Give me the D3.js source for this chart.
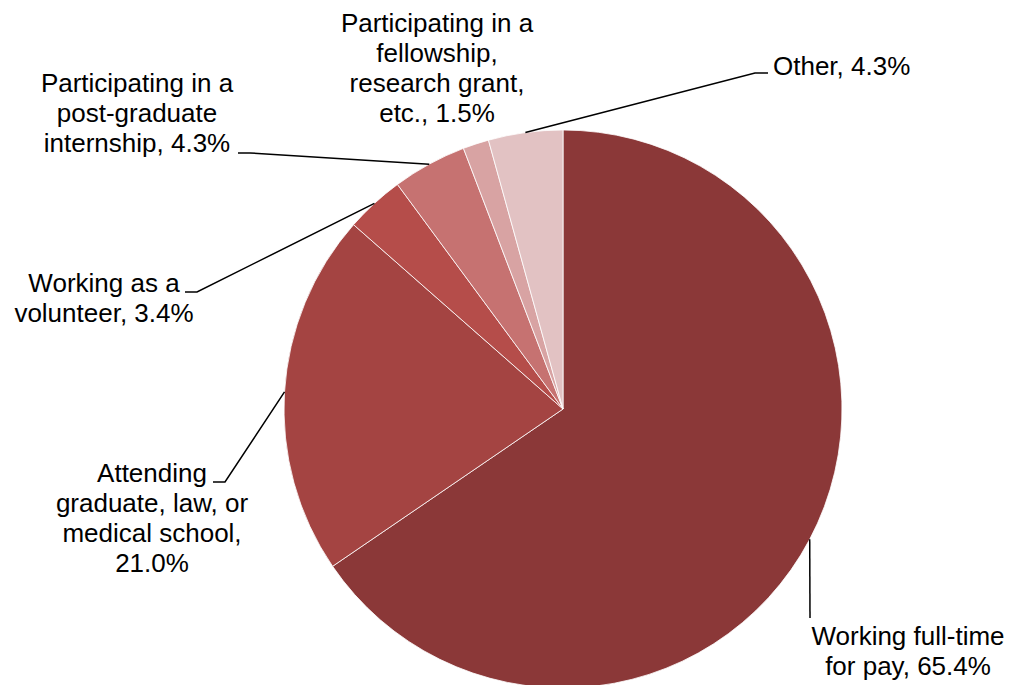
<!DOCTYPE html>
<html>
<head>
<meta charset="utf-8">
<script src="https://cdn.jsdelivr.net/npm/d3@7"></script>
<style>
  html, body { margin: 0; padding: 0; background: #ffffff; }
  svg { display: block; }
  text { font-family: "Liberation Sans", Arial, sans-serif; font-size: 26px; fill: #000; }
</style>
</head>
<body>
<svg id="chart" width="1012" height="685"></svg>
<script>
// ---- data ----
const categories = [
  "Working full-time for pay",
  "Attending graduate, law, or medical school",
  "Working as a volunteer",
  "Participating in a post-graduate internship",
  "Participating in a fellowship, research grant, etc.",
  "Other"
];
const values = [65.4, 21.0, 3.4, 4.3, 1.5, 4.3];
const labelLines = [
  ["Working full-time", "for pay, 65.4%"],
  ["Attending", "graduate, law, or", "medical school,", "21.0%"],
  ["Working as a", "volunteer, 3.4%"],
  ["Participating in a", "post-graduate", "internship, 4.3%"],
  ["Participating in a", "fellowship,", "research grant,", "etc., 1.5%"],
  ["Other, 4.3%"]
];
const colors = ["#8B3838", "#A44442", "#B54D4A", "#C67271", "#D8A3A3", "#E2C2C3"];

// ---- layout (label placement, not data) ----
const cx = 563, cy = 409, radius = 279, lineH = 30;
const labelLayout = [
  { x: 908, y: 645, anchor: "middle", leader: [[810, 618]] },
  { x: 152, y: 482, anchor: "middle", leader: [[225, 482], [213, 482]] },
  { x: 104, y: 292, anchor: "middle", leader: [[197, 292], [185, 292]] },
  { x: 137, y: 92,  anchor: "middle", leader: [[250, 153], [238, 153]] },
  { x: 437, y: 32,  anchor: "middle", leader: null },
  { x: 773, y: 75,  anchor: "start",  leader: [[755, 73], [768, 73]] }
];

const svg = d3.select("#chart");
const g = svg.append("g").attr("transform", `translate(${cx},${cy})`);

const pie = d3.pie().sort(null).value(d => d)(values);
const arc = d3.arc().innerRadius(0).outerRadius(radius);

g.selectAll("path.slice")
  .data(pie)
  .join("path")
  .attr("class", "slice")
  .attr("d", arc)
  .attr("fill", (d, i) => colors[i])
  .attr("stroke", "#ffffff")
  .attr("stroke-width", 0.8);

// leader lines
const line = d3.line();
pie.forEach((d, i) => {
  const L = labelLayout[i];
  if (!L.leader) return;
  const mid = (d.startAngle + d.endAngle) / 2;
  const start = [cx + radius * Math.sin(mid), cy - radius * Math.cos(mid)];
  svg.append("path")
    .attr("d", line([start, ...L.leader]))
    .attr("fill", "none")
    .attr("stroke", "#000")
    .attr("stroke-width", 1.5);
});

// labels
labelLines.forEach((lines, i) => {
  const L = labelLayout[i];
  const t = svg.append("text")
    .attr("text-anchor", L.anchor)
    .attr("x", L.x)
    .attr("y", L.y);
  lines.forEach((s, j) => {
    t.append("tspan")
      .attr("x", L.x)
      .attr("y", L.y + j * lineH)
      .text(s);
  });
});
</script>
</body>
</html>
